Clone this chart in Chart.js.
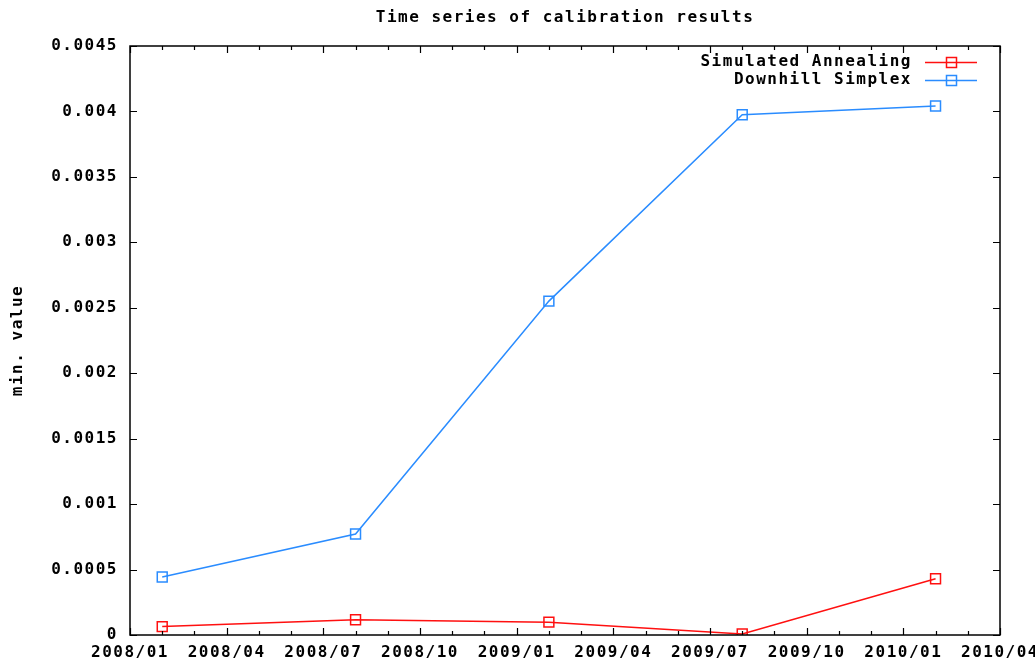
<!DOCTYPE html>
<html lang="en">
<head>
    <meta charset="UTF-8">
    <title>Time series of calibration results</title>
    <script src="https://cdn.jsdelivr.net/npm/chart.js"></script>
    <style>
        body {
            margin: 0;
            padding: 0;
            background: #ffffff;
        }
        #wrap {
            width: 1035px;
            height: 661px;
        }
    </style>
</head>
<body>
    <div id="wrap">
        <canvas id="calibChart" width="1035" height="661"></canvas>
    </div>
    <script>
    // data
    const dates = ['2008/02', '2008/08', '2009/02', '2009/08', '2010/02'];
    const annealing = [0.000064, 0.000117, 0.000098, 0.000008, 0.000430];
    const simplex = [0.000443, 0.000772, 0.002551, 0.003975, 0.004042];
    const tickLabels = ['2008/01', '2008/04', '2008/07', '2008/10', '2009/01', '2009/04',
                        '2009/07', '2009/10', '2010/01', '2010/04'];
    const seriesNames = ['Simulated Annealing', 'Downhill Simplex'];
    const seriesColors = ['#ff1010', '#2a8cff'];

    const FONT = { family: "'DejaVu Sans Mono', monospace", size: 16, weight: 'bold' };
    const FONT_CSS = "bold 16px 'DejaVu Sans Mono', monospace";

    // months since 2008/01
    function monthIndex(s) {
        const p = s.split('/');
        return (parseInt(p[0]) - 2008) * 12 + (parseInt(p[1]) - 1);
    }

    function toPoints(vals) {
        return vals.map((v, i) => ({ x: monthIndex(dates[i]), y: v }));
    }

    const gnuplotLook = {
        id: 'gnuplotLook',
        beforeInit(chart) { chart.ctx.letterSpacing = '1.5px'; },
        beforeDraw(chart) { chart.ctx.letterSpacing = '1.5px'; },
        afterDraw(chart) {
            const ctx = chart.ctx;
            const a = chart.chartArea;
            const xs = chart.scales.x, ys = chart.scales.y;
            ctx.save();
            ctx.strokeStyle = '#000';
            ctx.lineWidth = 1.5;
            ctx.strokeRect(a.left, a.top, a.right - a.left, a.bottom - a.top);
            ctx.lineWidth = 1.2;
            ctx.beginPath();
            xs.ticks.forEach(t => {
                const px = Math.round(xs.getPixelForValue(t.value)) + 0.5;
                const len = (t.value % 3 === 0) ? 7 : 4;
                ctx.moveTo(px, a.bottom); ctx.lineTo(px, a.bottom - len);
                ctx.moveTo(px, a.top); ctx.lineTo(px, a.top + len);
            });
            ys.ticks.forEach(t => {
                const py = Math.round(ys.getPixelForValue(t.value)) + 0.5;
                ctx.moveTo(a.left, py); ctx.lineTo(a.left + 7, py);
                ctx.moveTo(a.right, py); ctx.lineTo(a.right - 7, py);
            });
            ctx.stroke();

            // title
            ctx.font = FONT_CSS;
            ctx.letterSpacing = '1.5px';
            ctx.fillStyle = '#000';
            ctx.textAlign = 'center';
            ctx.textBaseline = 'middle';
            ctx.fillText('Time series of calibration results', (a.left + a.right) / 2, 18);

            // key, top right inside the box
            chart.data.datasets.forEach((ds, i) => {
                const y = 62 + i * 18;
                ctx.textAlign = 'right';
                ctx.fillStyle = '#000';
                ctx.fillText(ds.label, 912, y);
                ctx.strokeStyle = ds.borderColor;
                ctx.lineWidth = 1.5;
                ctx.beginPath();
                ctx.moveTo(925, y + 0.5); ctx.lineTo(977, y + 0.5);
                ctx.stroke();
                ctx.strokeRect(946.5, y - 4.5, 10, 10);
            });
            ctx.restore();
        }
    };

    const ctx = document.getElementById('calibChart').getContext('2d');
    new Chart(ctx, {
        type: 'line',
        data: {
            datasets: [
                {
                    label: seriesNames[0],
                    data: toPoints(annealing),
                    borderColor: seriesColors[0],
                    borderWidth: 1.5,
                    pointStyle: 'rect',
                    pointRadius: 7,
                    pointBorderWidth: 1.5,
                    pointBackgroundColor: 'rgba(0,0,0,0)',
                    pointBorderColor: seriesColors[0],
                    tension: 0
                },
                {
                    label: seriesNames[1],
                    data: toPoints(simplex),
                    borderColor: seriesColors[1],
                    borderWidth: 1.5,
                    pointStyle: 'rect',
                    pointRadius: 7,
                    pointBorderWidth: 1.5,
                    pointBackgroundColor: 'rgba(0,0,0,0)',
                    pointBorderColor: seriesColors[1],
                    tension: 0
                }
            ]
        },
        options: {
            responsive: false,
            animation: false,
            layout: { padding: { top: 46, right: 35, left: 0, bottom: 0 } },
            plugins: {
                legend: { display: false },
                title: { display: false },
                tooltip: { enabled: false }
            },
            scales: {
                x: {
                    type: 'linear',
                    min: 0,
                    max: 27,
                    grid: { display: false, drawTicks: false },
                    border: { display: false },
                    ticks: {
                        stepSize: 1,
                        autoSkip: false,
                        maxRotation: 0,
                        padding: 8,
                        color: '#000',
                        font: FONT,
                        callback: v => (v % 3 === 0 ? tickLabels[v / 3] : '')
                    },
                    afterFit(scale) {
                        scale.height = 26;
                        scale.paddingLeft = 0;
                        scale.paddingRight = 0;
                    }
                },
                y: {
                    min: 0,
                    max: 0.0045,
                    grid: { display: false, drawTicks: false },
                    border: { display: false },
                    ticks: {
                        stepSize: 0.0005,
                        padding: 12,
                        color: '#000',
                        font: FONT,
                        callback: v => String(Number(v.toFixed(4)))
                    },
                    title: {
                        display: true,
                        text: 'min. value',
                        color: '#000',
                        font: FONT,
                        padding: { top: 8, bottom: 0 }
                    },
                    afterFit(scale) {
                        scale.width = 130;
                        scale.paddingTop = 0;
                        scale.paddingBottom = 0;
                    }
                }
            }
        },
        plugins: [gnuplotLook]
    });
    </script>
</body>
</html>
